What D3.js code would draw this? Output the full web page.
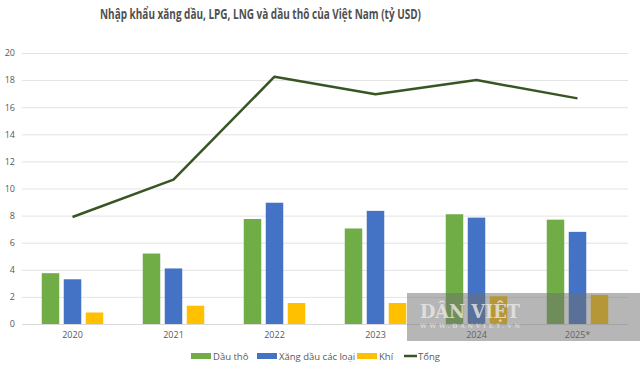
<!DOCTYPE html>
<head>
  <meta charset="utf-8">
  <title>Nhập khẩu xăng dầu</title>
  <script src="https://d3js.org/d3.v7.min.js"></script>
  <style>
    body { margin: 0; background: #fff; }
    text { font-family: "Open Sans", "Noto Sans", sans-serif; }
    .grid line { stroke: #e3e3e3; }
    .tick text { fill: #595959; font-size: 9px; }
  </style>
</head>
<body>
<div class="container"></div>
<script>
'use strict';
var width = 640;
var height = 370;

var years = ['2020', '2021', '2022', '2023', '2024', '2025*'];
var crude = [3.75, 5.2, 7.75, 7.05, 8.1, 7.7];
var petrol = [3.3, 4.1, 8.95, 8.35, 7.85, 6.8];
var gas = [0.85, 1.35, 1.55, 1.55, 2.05, 2.15];
var total = [7.9, 10.65, 18.25, 16.95, 18.0, 16.65];
var yTicks = [0, 2, 4, 6, 8, 10, 12, 14, 16, 18, 20];

var seriesNames = ['Dầu thô', 'Xăng dầu các loại', 'Khí'];
var colors = ['#70ad47', '#4472c4', '#ffc000'];
var lineName = 'Tổng';
var lineColor = '#375623';

var svg = d3.select('.container')
  .append('svg')
  .attr('width', width)
  .attr('height', height);

var x = d3.scaleBand().domain(years).range([22, 628]);
var y = d3.scaleLinear().domain([0, 20]).range([324, 53]);

// title (narrowed to match the Calibri look)
svg.append('text')
  .attr('x', 100)
  .attr('y', 18.5)
  .attr('textLength', 321)
  .attr('lengthAdjust', 'spacingAndGlyphs')
  .attr('fill', '#505050')
  .style('font-size', '14px')
  .style('font-weight', 'bold')
  .text('Nhập khẩu xăng dầu, LPG, LNG và dầu thô của Việt Nam (tỷ USD)');

// grid + y labels
svg.append('g')
  .attr('class', 'grid')
  .attr('transform', 'translate(22,0)')
  .call(d3.axisLeft(y).tickValues(yTicks).tickSize(-606).tickPadding(7))
  .call(function (g) { g.select('.domain').remove(); });

// x labels
svg.append('g')
  .attr('transform', 'translate(0,324)')
  .call(d3.axisBottom(x).tickSize(0).tickPadding(8))
  .call(function (g) {
    g.select('.domain').attr('stroke', '#d9d9d9');
  });

// bars
var rows = years.map(function (yr, i) {
  return { year: yr, vals: [crude[i], petrol[i], gas[i]] };
});
var barW = 17.5, gap = 4.5;
var groups = svg.append('g').selectAll('g')
  .data(rows)
  .enter().append('g')
  .attr('transform', function (d) {
    return 'translate(' + (x(d.year) + x.bandwidth() / 2) + ',0)';
  });
groups.selectAll('rect')
  .data(function (d) { return d.vals; })
  .enter().append('rect')
  .attr('x', function (d, i) { return (i - 1) * (barW + gap) - barW / 2; })
  .attr('width', barW)
  .attr('y', function (d) { return y(d); })
  .attr('height', function (d) { return y(0) - y(d); })
  .attr('fill', function (d, i) { return colors[i]; });

// total line
var line = d3.line()
  .x(function (d, i) { return x(years[i]) + x.bandwidth() / 2; })
  .y(function (d) { return y(d); });
svg.append('path')
  .datum(total)
  .attr('d', line)
  .attr('fill', 'none')
  .attr('stroke', lineColor)
  .attr('stroke-width', 2.5)
  .attr('stroke-linejoin', 'round');

// legend
var legend = svg.append('g').attr('transform', 'translate(0,356)');
var legX = [191, 257, 357];
seriesNames.forEach(function (name, i) {
  legend.append('rect')
    .attr('x', legX[i]).attr('y', -3)
    .attr('width', 20).attr('height', 6)
    .attr('fill', colors[i]);
  legend.append('text')
    .attr('x', legX[i] + 22).attr('y', 3.5)
    .attr('fill', '#595959')
    .style('font-size', '9.5px')
    .text(name);
});
legend.append('line')
  .attr('x1', 404).attr('x2', 417)
  .attr('y1', 0).attr('y2', 0)
  .attr('stroke', lineColor).attr('stroke-width', 2.5);
legend.append('text')
  .attr('x', 418).attr('y', 3.5)
  .attr('fill', '#595959')
  .style('font-size', '9.5px')
  .text(lineName);

// watermark overlay
var wm = svg.append('g');
wm.append('rect')
  .attr('x', 407).attr('y', 293)
  .attr('width', 233).attr('height', 48)
  .attr('fill', '#6e6e6e')
  .attr('opacity', 0.5);
wm.append('text')
  .attr('x', 420).attr('y', 318)
  .attr('textLength', 100)
  .attr('lengthAdjust', 'spacingAndGlyphs')
  .attr('fill', '#e8e8e8').attr('opacity', 0.8)
  .style('font-family', '"DejaVu Serif", serif')
  .style('font-weight', 'bold')
  .style('font-size', '18px')
  .text('DÂN VIỆT');
wm.append('text')
  .attr('x', 420).attr('y', 328)
  .attr('textLength', 100)
  .attr('fill', '#e8e8e8').attr('opacity', 0.7)
  .style('font-family', '"DejaVu Serif", serif')
  .style('font-weight', 'bold')
  .style('font-size', '6px')
  .text('WWW.DANVIET.VN');
</script>
</body>
